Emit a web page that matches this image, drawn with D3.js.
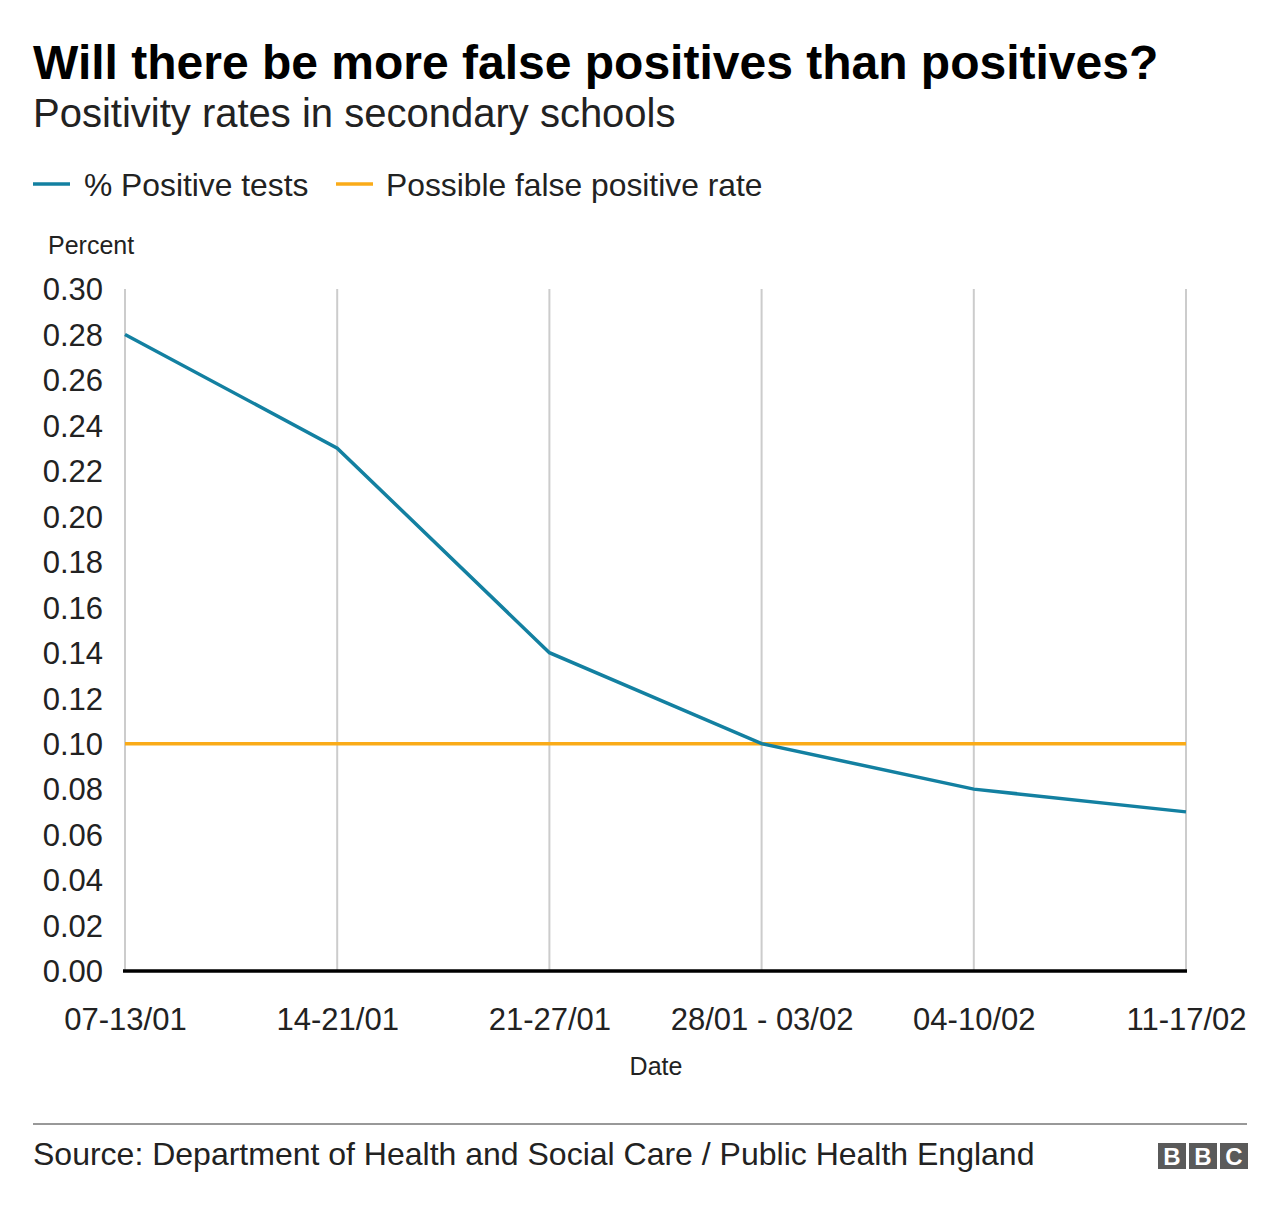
<!DOCTYPE html>
<html><head><meta charset="utf-8">
<script src="https://cdn.jsdelivr.net/npm/d3@7"></script>
<style>
body{margin:0;background:#fff;}
svg text{font-family:"Liberation Sans",Arial,Helvetica,sans-serif;fill:#222;}
</style></head>
<body>
<script>
const categories = ["07-13/01","14-21/01","21-27/01","28/01 - 03/02","04-10/02","11-17/02"];
const positiveTests = [0.28,0.23,0.14,0.10,0.08,0.07];
const falsePositive = [0.10,0.10,0.10,0.10,0.10,0.10];
const yTicks = [0,0.02,0.04,0.06,0.08,0.10,0.12,0.14,0.16,0.18,0.20,0.22,0.24,0.26,0.28,0.30];
const seriesNames = ["% Positive tests","Possible false positive rate"];
const colors = ["#1380A1","#FAAB18"];

const W=1280,H=1212;
const svg=d3.select("body").append("svg").attr("width",W).attr("height",H);

svg.append("text").attr("x",33).attr("y",79).attr("font-size",48).attr("font-weight","bold")
  .style("fill","#000").text("Will there be more false positives than positives?");
svg.append("text").attr("x",33).attr("y",127).attr("font-size",40)
  .text("Positivity rates in secondary schools");

// legend
const leg=[{x:33,tx:84},{x:336,tx:386}];
seriesNames.forEach((n,i)=>{
  svg.append("line").attr("x1",leg[i].x).attr("x2",leg[i].x+37).attr("y1",184).attr("y2",184)
    .attr("stroke",colors[i]).attr("stroke-width",3.5);
  svg.append("text").attr("x",leg[i].tx).attr("y",196).attr("font-size",31.8).text(n);
});

svg.append("text").attr("x",48).attr("y",254).attr("font-size",25).text("Percent");

const x=d3.scalePoint().domain(categories).range([125,1186]);
const y=d3.scaleLinear().domain([0,0.30]).range([971,289]);

// vertical grid
svg.append("g").selectAll("line").data(categories).join("line")
  .attr("x1",d=>x(d)).attr("x2",d=>x(d)).attr("y1",289).attr("y2",971)
  .attr("stroke","#cccccc").attr("stroke-width",2);

// y axis labels
const yAxis=svg.append("g").attr("transform","translate(103,0)")
  .call(d3.axisLeft(y).tickValues(yTicks).tickFormat(d3.format(".2f")).tickSize(0).tickPadding(0));
yAxis.select(".domain").remove();
yAxis.selectAll("text").attr("font-size",31).attr("dy","0.35em").style("font-family",null);

// x axis labels
const xAxis=svg.append("g").attr("transform","translate(0,1000)")
  .call(d3.axisBottom(x).tickSize(0).tickPadding(0));
xAxis.select(".domain").remove();
xAxis.selectAll("text").attr("font-size",31).attr("dy","0em").attr("y",30).style("font-family",null);

svg.append("text").attr("x",656).attr("y",1075).attr("font-size",25).attr("text-anchor","middle").text("Date");

// lines
const line=d3.line().x((d,i)=>x(categories[i])).y(d=>y(d));
svg.append("path").datum(falsePositive).attr("d",line).attr("fill","none")
  .attr("stroke",colors[1]).attr("stroke-width",3.5);
svg.append("path").datum(positiveTests).attr("d",line).attr("fill","none")
  .attr("stroke",colors[0]).attr("stroke-width",3.5);

// baseline
svg.append("line").attr("x1",123).attr("x2",1187).attr("y1",y(0)).attr("y2",y(0))
  .attr("stroke","#000").attr("stroke-width",3.5);

// footer
svg.append("line").attr("x1",33).attr("x2",1247).attr("y1",1124).attr("y2",1124)
  .attr("stroke","#333").attr("stroke-width",1);
svg.append("text").attr("x",33).attr("y",1165).attr("font-size",32)
  .text("Source: Department of Health and Social Care / Public Health England");

const bbc=svg.append("g").attr("transform","translate(1158,1143)");
["B","B","C"].forEach((c,i)=>{
  bbc.append("rect").attr("x",i*31).attr("y",0).attr("width",28).attr("height",26).attr("fill","#5a5a5a");
  bbc.append("text").attr("x",i*31+14).attr("y",22).attr("text-anchor","middle")
    .attr("font-size",24).attr("font-weight","bold").style("fill","#fff").text(c);
});
</script>
</body></html>
